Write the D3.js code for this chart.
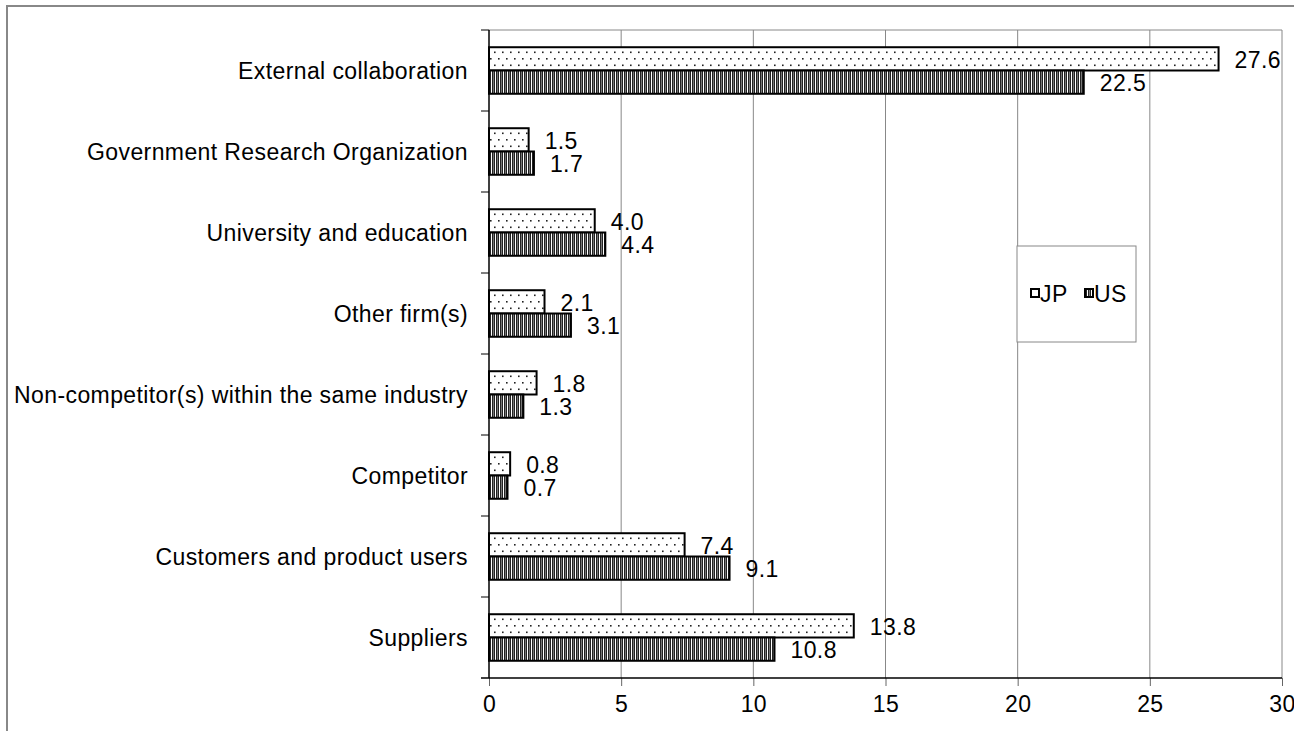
<!DOCTYPE html>
<html>
<head>
<meta charset="utf-8">
<script src="https://cdn.jsdelivr.net/npm/d3@7"></script>
<style>
  html, body { margin: 0; padding: 0; background: #fff; }
  svg { display: block; }
  text { font-family: Arial, "Liberation Sans", sans-serif; font-size: 23px; letter-spacing: 0.4px; fill: #000; }
</style>
</head>
<body>
<svg id="chart" width="1294" height="731"></svg>
<script>
// Sources of external collaboration, share of firms (%), Japan vs. United States
const categories = [
  "External collaboration",
  "Government Research Organization",
  "University and education",
  "Other firm(s)",
  "Non-competitor(s) within the same industry",
  "Competitor",
  "Customers and product users",
  "Suppliers"
];
const seriesNames = ["JP", "US"];
const jpValues = [27.6, 1.5, 4.0, 2.1, 1.8, 0.8, 7.4, 13.8];
const usValues = [22.5, 1.7, 4.4, 3.1, 1.3, 0.7, 9.1, 10.8];
const xTicks = [0, 5, 10, 15, 20, 25, 30];

const rows = categories.map((c, i) => ({ category: c, JP: jpValues[i], US: usValues[i] }));

const svg = d3.select("#chart");
const plot = { left: 489, right: 1282, top: 30, bottom: 678 };

// Chart-area border (extends past the right/bottom of the view)
svg.append("rect")
  .attr("x", 7).attr("y", 6).attr("width", 1400).attr("height", 800)
  .attr("fill", "none").attr("stroke", "#888").attr("stroke-width", 2);

// Fill patterns: staggered dots for JP, vertical hatching for US
const defs = svg.append("defs");
const dots = defs.append("pattern")
  .attr("id", "pat-jp").attr("patternUnits", "userSpaceOnUse")
  .attr("width", 8).attr("height", 13);
dots.append("rect").attr("width", 8).attr("height", 13).attr("fill", "#fff");
dots.append("rect").attr("x", 2).attr("y", 2).attr("width", 1.6).attr("height", 1.6).attr("fill", "#222");
dots.append("rect").attr("x", 6).attr("y", 8.5).attr("width", 1.6).attr("height", 1.6).attr("fill", "#222");

const stripes = defs.append("pattern")
  .attr("id", "pat-us").attr("patternUnits", "userSpaceOnUse")
  .attr("width", 4).attr("height", 4);
stripes.append("rect").attr("width", 4).attr("height", 4).attr("fill", "#fff");
stripes.append("rect").attr("x", 0).attr("width", 1).attr("height", 4).attr("fill", "#222");
stripes.append("rect").attr("x", 1).attr("width", 1).attr("height", 4).attr("fill", "#777");
stripes.append("rect").attr("x", 2).attr("width", 1).attr("height", 4).attr("fill", "#222");

const fills = { JP: "url(#pat-jp)", US: "url(#pat-us)" };

// Scales
const x = d3.scaleLinear().domain([0, 30]).range([plot.left, plot.right]);
const y = d3.scaleBand().domain(categories).range([plot.top, plot.bottom]).padding(0);
const ySub = d3.scaleBand().domain(seriesNames).range([0, y.bandwidth()])
  .paddingInner(0).paddingOuter(0.74);

// Vertical gridlines
svg.append("g").selectAll("line")
  .data(xTicks.filter(t => t > 0))
  .join("line")
  .attr("x1", d => x(d)).attr("x2", d => x(d))
  .attr("y1", plot.top).attr("y2", plot.bottom)
  .attr("stroke", "#888").attr("stroke-width", 1);

// Plot-area top edge
svg.append("line")
  .attr("x1", plot.left).attr("x2", plot.right)
  .attr("y1", plot.top).attr("y2", plot.top)
  .attr("stroke", "#888").attr("stroke-width", 1);

// X axis
const xAxis = d3.axisBottom(x).tickValues(xTicks).tickSize(8).tickSizeOuter(0).tickPadding(10);
const gx = svg.append("g").attr("transform", `translate(0,${plot.bottom})`).call(xAxis);
gx.select(".domain").remove();
gx.selectAll(".tick line").attr("stroke", "#666");
gx.selectAll(".tick text")
  .style("font-family", "Arial, 'Liberation Sans', sans-serif")
  .style("font-size", "23px").attr("fill", "#000");
svg.append("line")
  .attr("x1", plot.left - 8).attr("x2", plot.right)
  .attr("y1", plot.bottom).attr("y2", plot.bottom)
  .attr("stroke", "#000").attr("stroke-width", 1.5);

// Y axis line and category boundary ticks
svg.append("line")
  .attr("x1", plot.left).attr("x2", plot.left)
  .attr("y1", plot.top).attr("y2", plot.bottom)
  .attr("stroke", "#000").attr("stroke-width", 1.5);
svg.append("g").selectAll("line")
  .data(categories)
  .join("line")
  .attr("x1", plot.left - 8).attr("x2", plot.left)
  .attr("y1", d => y(d)).attr("y2", d => y(d))
  .attr("stroke", "#000").attr("stroke-width", 1);

// Category labels
svg.append("g").selectAll("text")
  .data(categories)
  .join("text")
  .attr("x", plot.left - 21)
  .attr("y", d => y(d) + y.bandwidth() / 2)
  .attr("text-anchor", "end")
  .attr("dominant-baseline", "central")
  .text(d => d);

// Bars
const groups = svg.append("g").selectAll("g")
  .data(rows)
  .join("g")
  .attr("transform", d => `translate(0,${y(d.category)})`);

groups.selectAll("rect")
  .data(d => seriesNames.map(s => ({ series: s, value: d[s] })))
  .join("rect")
  .attr("x", x(0))
  .attr("y", d => ySub(d.series))
  .attr("width", d => x(d.value) - x(0))
  .attr("height", ySub.bandwidth())
  .attr("fill", d => fills[d.series])
  .attr("stroke", "#000").attr("stroke-width", 2);

// Value labels
const fmt = d3.format(".1f");
groups.selectAll("text.val")
  .data(d => seriesNames.map(s => ({ series: s, value: d[s] })))
  .join("text")
  .attr("class", "val")
  .attr("x", d => x(d.value) + 16)
  .attr("y", d => ySub(d.series) + ySub.bandwidth() / 2 + 1)
  .attr("dominant-baseline", "central")
  .text(d => fmt(d.value));

// Legend
const legend = svg.append("g");
legend.append("rect")
  .attr("x", 1017).attr("y", 246).attr("width", 119).attr("height", 96)
  .attr("fill", "#fff").attr("stroke", "#888").attr("stroke-width", 1);
const legendItems = [
  { name: "JP", sx: 1031, tx: 1040 },
  { name: "US", sx: 1085, tx: 1094 }
];
legendItems.forEach(item => {
  legend.append("rect")
    .attr("x", item.sx).attr("y", 289).attr("width", 8).attr("height", 8)
    .attr("fill", fills[item.name]).attr("stroke", "#000").attr("stroke-width", 2);
  legend.append("text")
    .attr("x", item.tx).attr("y", 294)
    .attr("dominant-baseline", "central")
    .text(item.name);
});
</script>
</body>
</html>
